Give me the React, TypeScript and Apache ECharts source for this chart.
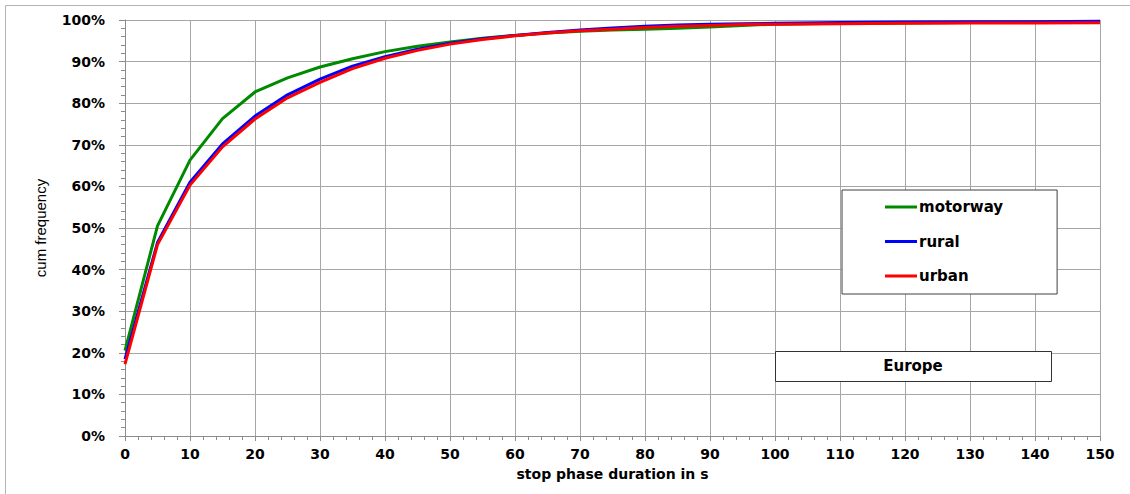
import React, { useEffect, useRef } from "react";
import * as echarts from "echarts";

const durations = [0, 5, 10, 15, 20, 25, 30, 35, 40, 45, 50, 55, 60, 65, 70, 75, 80, 85, 90, 95, 100, 110, 120, 130, 140, 150];
const motorway = [20.5, 50.5, 66.3, 76.3, 82.7, 86.1, 88.7, 90.7, 92.4, 93.7, 94.7, 95.6, 96.3, 96.9, 97.3, 97.6, 97.8, 98.0, 98.3, 98.7, 99.0, 99.2, 99.3, 99.4, 99.5, 99.6];
const rural = [18.5, 46.5, 61.0, 70.2, 76.9, 82.0, 85.8, 88.9, 91.2, 93.0, 94.4, 95.5, 96.3, 97.0, 97.6, 98.1, 98.5, 98.8, 99.0, 99.1, 99.2, 99.4, 99.5, 99.6, 99.6, 99.7];
const urban = [17.3, 46.0, 60.3, 69.5, 76.2, 81.3, 85.0, 88.3, 90.8, 92.7, 94.2, 95.3, 96.2, 96.9, 97.4, 97.8, 98.2, 98.5, 98.7, 98.9, 99.0, 99.1, 99.2, 99.25, 99.3, 99.35];
const seriesNames = ["motorway", "rural", "urban"];
const seriesColors = ["#008a00", "#0000ff", "#ff0000"];
const regionLabel = "Europe";
const xAxisTitle = "stop phase duration in s";
const yAxisTitle = "cum frequency";

const FONT = "'DejaVu Sans', Verdana, sans-serif";

export default function App() {
  const ref = useRef<HTMLDivElement>(null);
  useEffect(() => {
    if (!ref.current) return;
    const chart = echarts.init(ref.current, null, { renderer: "svg" });
    const valuesList = [motorway, rural, urban];
    const option: any = {
      animation: false,
      backgroundColor: "#ffffff",
      grid: { left: 125, right: 30, top: 20, bottom: 58 },
      xAxis: {
        type: "value",
        min: 0,
        max: 150,
        interval: 10,
        name: xAxisTitle,
        nameLocation: "middle",
        nameGap: 31,
        nameTextStyle: { fontFamily: FONT, fontWeight: "bold", fontSize: 14, color: "#000" },
        axisLine: { show: true, lineStyle: { color: "#8c8c8c", width: 1 } },
        axisTick: { show: true, length: 5, lineStyle: { color: "#8c8c8c" } },
        minorTick: { show: true, splitNumber: 5, length: 4, lineStyle: { color: "#8c8c8c" } },
        axisLabel: { fontFamily: FONT, fontWeight: "bold", fontSize: 14, color: "#000", margin: 11 },
        splitLine: { show: true, lineStyle: { color: "#a6a6a6", width: 1 } },
      },
      yAxis: {
        type: "value",
        min: 0,
        max: 100,
        interval: 10,
        axisLine: { show: true, lineStyle: { color: "#8c8c8c", width: 1 } },
        axisTick: { show: true, length: 6, lineStyle: { color: "#8c8c8c" } },
        minorTick: { show: true, splitNumber: 5, length: 4, lineStyle: { color: "#8c8c8c" } },
        axisLabel: {
          fontFamily: FONT,
          fontWeight: "bold",
          fontSize: 14,
          color: "#000",
          margin: 20,
          formatter: (v: number) => `${v}%`,
        },
        splitLine: { show: true, lineStyle: { color: "#a6a6a6", width: 1 } },
      },
      legend: {
        orient: "vertical",
        left: 842,
        top: 190,
        padding: [9, 54, 10, 43],
        itemGap: 18.5,
        itemWidth: 32,
        itemHeight: 3,
        icon: "rect",
        backgroundColor: "#ffffff",
        borderColor: "#404040",
        borderWidth: 1,
        borderRadius: 0,
        textStyle: { fontFamily: FONT, fontWeight: "bold", fontSize: 15, color: "#000", lineHeight: 16, padding: [0, 0, 0, -3] },
        data: seriesNames,
      },
      graphic: [
        {
          type: "rect",
          z: 0,
          silent: true,
          shape: { x: 5.5, y: 5.5, width: 1140, height: 500 },
          style: { fill: "none", stroke: "#b3b3b3", lineWidth: 1 },
        },
        {
          type: "rect",
          z: 100,
          shape: { x: 775.5, y: 351.5, width: 276, height: 30 },
          style: { fill: "#ffffff", stroke: "#333333", lineWidth: 1 },
        },
        {
          type: "text",
          z: 101,
          x: 913,
          y: 366,
          style: {
            text: regionLabel,
            fontFamily: FONT,
            fontWeight: "bold",
            fontSize: 15,
            fill: "#000",
            align: "center",
            verticalAlign: "middle",
          },
        },
        {
          type: "text",
          z: 101,
          x: 40,
          y: 228,
          rotation: Math.PI / 2,
          style: {
            text: yAxisTitle,
            fontFamily: "'Liberation Sans Narrow', 'Liberation Sans', sans-serif",
            fontSize: 15,
            fill: "#000",
            align: "center",
            verticalAlign: "middle",
          },
        },
      ],
      series: seriesNames.map((name, i) => ({
        name,
        type: "line",
        symbol: "none",
        smooth: false,
        z: 2 + i,
        color: seriesColors[i],
        lineStyle: { color: seriesColors[i], width: 3 },
        data: durations.map((d, j) => [d, valuesList[i][j]]),
      })),
    };
    chart.setOption(option);
    return () => chart.dispose();
  }, []);
  return (
    <div
      ref={ref}
      style={{ position: "fixed", left: 0, top: 0, width: 1130, height: 494, background: "#fff" }}
    />
  );
}
